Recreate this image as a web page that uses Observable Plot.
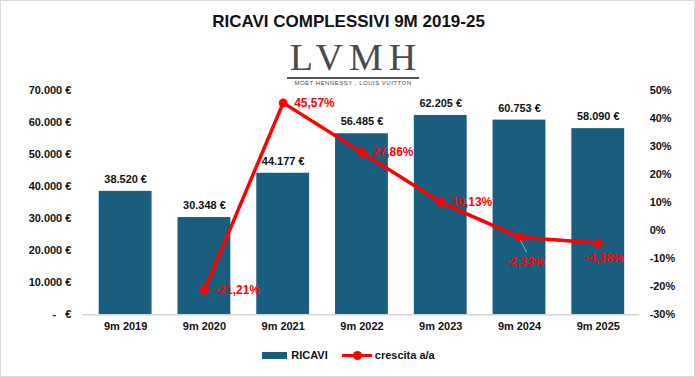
<!DOCTYPE html>
<html>
<head>
<meta charset="utf-8">
<script src="https://cdn.jsdelivr.net/npm/d3@7"></script>
<script src="https://cdn.jsdelivr.net/npm/@observablehq/plot@0.6"></script>
<style>
  html, body { margin: 0; padding: 0; background: #fff; }
  #wrap { position: relative; width: 695px; height: 377px; box-sizing: border-box; border: 1px solid #d9d9d9; overflow: hidden; font-family: "Liberation Sans", Arial, sans-serif; }
  #title { position: absolute; left: 0; width: 695px; top: 11px; text-align: center; font-family: "Liberation Sans Narrow", "Arial Narrow", "Liberation Sans", sans-serif; font-weight: bold; font-size: 17px; color: #111; }
  #logo { position: absolute; left: 252px; width: 200px; top: 38px; text-align: center; color: #4a4a4a; }
  #logo .big { font-family: "Liberation Serif", "Times New Roman", serif; font-size: 38px; letter-spacing: 6px; line-height: 37px; padding-left: 6px; }
  #logo .rule { width: 132px; height: 2px; background: #555; margin: 1px auto 0; }
  #logo .small { font-family: "Liberation Sans", Arial, sans-serif; font-size: 6px; letter-spacing: 0.5px; line-height: 8px; }
  #chart { position: absolute; left: 0; top: 80px; }
  #legend { position: absolute; top: 348px; left: 0; width: 695px; display: flex; justify-content: center; align-items: center; font-weight: bold; font-size: 11px; color: #111; }
  #legend .sw { display: inline-block; width: 25px; height: 7px; background: #1a5e7f; margin-right: 4px; }
  #legend .ln { display: inline-block; position: relative; width: 30px; height: 3px; background: #ff0000; margin: 0 3px 0 14px; }
  #legend .ln::after { content: ""; position: absolute; left: 11px; top: -3px; width: 9px; height: 9px; border-radius: 50%; background: #ff0000; }
</style>
</head>
<body>
<div id="wrap">
  <div id="title">RICAVI COMPLESSIVI 9M 2019-25</div>
  <div id="logo"><div class="big">LVMH</div><div class="rule"></div><div class="small">MOËT HENNESSY . LOUIS VUITTON</div></div>
  <div id="chart"></div>
  <div id="legend"><span class="sw"></span><span>RICAVI</span><span class="ln"></span><span>crescita a/a</span></div>
</div>
<script>
const categories = ["9m 2019", "9m 2020", "9m 2021", "9m 2022", "9m 2023", "9m 2024", "9m 2025"];
const revenues = [38520, 30348, 44177, 56485, 62205, 60753, 58090];
const growth = [null, -21.21, 45.57, 27.86, 10.13, -2.33, -4.38];
const leftTicks = [0, 10000, 20000, 30000, 40000, 50000, 60000, 70000];
const rightTicks = [-30, -20, -10, 0, 10, 20, 30, 40, 50];

const BAR = "#1a5e7f";
const RED = "#ff0000";

const it = d3.formatLocale({decimal: ",", thousands: ".", grouping: [3], currency: ["", " €"], minus: "-"});
const money = v => v === 0 ? "-\u00a0\u00a0\u00a0€" : it.format(",.0f")(v) + " €";
const pct = v => it.format(".2f")(v) + "%";

// right axis [-30%, 50%] shares the vertical extent of left axis [0, 70000]
const rMin = rightTicks[0], rMax = rightTicks[rightTicks.length - 1];
const lMax = leftTicks[leftTicks.length - 1];
const toLeft = p => (p - rMin) / (rMax - rMin) * lMax;
const fromLeft = v => v / lMax * (rMax - rMin) + rMin;

const rows = categories.map((c, i) => ({cat: c, rev: revenues[i], g: growth[i]}));
const gRows = rows.filter(d => d.g != null);
const belowA = new Set(["9m 2024"]);
const belowB = new Set(["9m 2025"]);
const rightRows = gRows.filter(d => !belowA.has(d.cat) && !belowB.has(d.cat));

const chart = Plot.plot({
  width: 695,
  height: 260,
  marginLeft: 82,
  marginRight: 55,
  marginTop: 9,
  marginBottom: 26,
  x: {type: "band", domain: categories, paddingInner: 0.33, paddingOuter: 0.175, label: null},
  y: {domain: [0, lMax], label: null},
  style: {fontFamily: "'Liberation Sans', Arial, sans-serif", fontSize: "11px", fontWeight: "bold", color: "#111", background: "transparent"},
  marks: [
    Plot.axisY({ticks: leftTicks, tickFormat: money, tickSize: 0, tickPadding: 12, label: null, fontWeight: "bold"}),
    Plot.axisY({anchor: "right", ticks: rightTicks.map(toLeft), tickFormat: v => Math.round(fromLeft(v)) + "%", tickSize: 0, tickPadding: 10, label: null, fontWeight: "bold"}),
    Plot.axisX({tickSize: 0, tickPadding: 7, label: null, fontWeight: "bold"}),
    Plot.barY(rows, {x: "cat", y: "rev", fill: BAR}),
    Plot.ruleY([0], {stroke: "#d4d4d4", strokeWidth: 1.5}),
    Plot.text(rows, {x: "cat", y: "rev", text: d => money(d.rev), dy: -12, fontWeight: "bold", fontSize: 11, fill: "#111"}),
    Plot.line(gRows, {x: "cat", y: d => toLeft(d.g), stroke: RED, strokeWidth: 3.5}),
    Plot.dot(gRows, {x: "cat", y: d => toLeft(d.g), r: 4.5, fill: RED}),
    Plot.link(gRows.filter(d => belowA.has(d.cat)), {x1: "cat", x2: "cat", y1: d => toLeft(d.g), y2: d => toLeft(d.g), dx: 1, dy: 3, stroke: "#aaa", strokeWidth: 1,
      render: (index, scales, values, dims, ctx, next) => {
        const g = next(index, scales, values, dims, ctx);
        d3.select(g).selectAll("path").attr("d", i => {
          const x = values.x1[i], y = values.y1[i];
          return `M${x},${y}L${x + 6},${y + 12}`;
        });
        return g;
      }}),
    Plot.text(rightRows, {x: "cat", y: d => toLeft(d.g), text: d => pct(d.g), dx: 11, textAnchor: "start", fill: RED, fontSize: 12, fontWeight: "bold"}),
    Plot.text(gRows.filter(d => belowA.has(d.cat)), {x: "cat", y: d => toLeft(d.g), text: d => pct(d.g), dx: 6, dy: 25, fill: RED, fontSize: 12, fontWeight: "bold"}),
    Plot.text(gRows.filter(d => belowB.has(d.cat)), {x: "cat", y: d => toLeft(d.g), text: d => pct(d.g), dx: 6, dy: 15, fill: RED, fontSize: 12, fontWeight: "bold"})
  ]
});
document.getElementById("chart").appendChild(chart);
</script>
</body>
</html>
